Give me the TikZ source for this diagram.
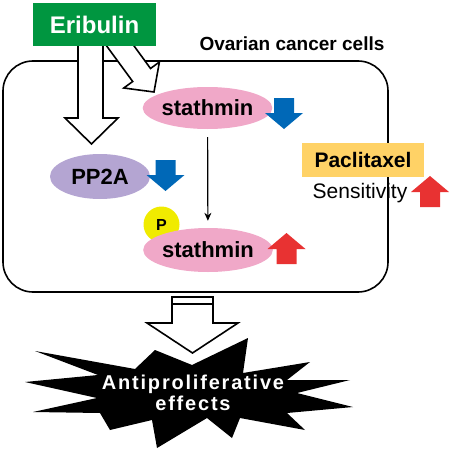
\documentclass[tikz,border=0pt]{standalone}
\usepackage{fontspec}
\setmainfont{Liberation Sans}
\usepackage{tikz}
\usetikzlibrary{calc,shapes.geometric,arrows.meta}
\def\fsz#1{\fontsize{#1}{#1}\selectfont}
\definecolor{erigreen}{RGB}{0,150,64}
\definecolor{stpink}{RGB}{240,168,200}
\definecolor{pppurple}{RGB}{180,165,210}
\definecolor{dnblue}{RGB}{0,104,183}
\definecolor{upred}{RGB}{232,50,50}
\definecolor{pacyellow}{RGB}{255,210,102}
\definecolor{pyellow}{RGB}{240,235,0}
\tikzset{
	fatdown/.pic={\fill (-10,-15) -- (10,-15) -- (10,0) -- (19,0) -- (0,16) -- (-19,0) -- (-10,0) -- cycle;},
	fatup/.pic={\fill (-10,15) -- (10,15) -- (10,0) -- (19,0) -- (0,-16) -- (-19,0) -- (-10,0) -- cycle;},
	blob/.style={ellipse, inner sep=0pt, font=\bfseries\fsz{22}},
	hollow/.style={line width=1.6pt, fill=white, line join=miter}
}

\begin{document}
\begin{tikzpicture}[x=1pt, y=-1pt]
		%%%%% START %%%%%
		\useasboundingbox (0,0) rectangle (450,452);
		
		\draw[line width=1.6pt, rounded corners=30pt] (3,61) rectangle (388,292);
		\node (cell) at (292,44) {\bfseries\fsz{19}Ovarian cancer cells};
		
		\draw[hollow] (78,40) -- (78,118) -- (65,118) -- (91.5,144) -- (118,118) -- (103,118) -- (103,40) -- cycle;
		\draw[hollow] (103,41) -- (132.7,81.5) -- (123.8,88) -- (154,92) -- (159.4,62) -- (150.5,68.5) -- (121,28) -- cycle;
		\node[fill=erigreen, minimum width=123pt, minimum height=43pt, inner sep=0pt] (eri) at (94.5,24.5) {\color{white}\bfseries\fsz{24}Eribulin};
		
		\node[blob, fill=stpink, minimum width=126pt, minimum height=42pt] (st1) at (207.5,108) {stathmin};
		\pic[fill=dnblue] at (284,113) {fatdown};
		
		\node[blob, fill=pppurple, minimum width=100pt, minimum height=45pt] (pp) at (100,176.5) {PP2A};
		\pic[fill=dnblue] at (165.5,175) {fatdown};
		
		\node[circle, fill=pyellow, minimum size=36pt, inner sep=0pt] (ph) at (161.5,224.5) {\bfseries\fsz{16}P};
		\node[blob, fill=stpink, minimum width=126pt, minimum height=44pt] (st2) at (208,250) {stathmin};
		\pic[fill=upred] at (286.5,249) {fatup};
		\draw[-{Stealth[length=8pt, width=7pt]}, line width=1.2pt, shorten <=8pt, shorten >=7pt] (st1) -- (st2);
		
		\node[fill=pacyellow, minimum width=122pt, minimum height=34pt, inner sep=0pt] (pac) at (363,160) {\bfseries\fsz{21}Paclitaxel};
		\node (sens) at (360,193) {\fsz{21}Sensitivity};
		\pic[fill=upred] at (430,192) {fatup};
		
		\fill (35,351) -- (135,369) -- (155,350) -- (192,365) -- (248,338) -- (243,373) -- (310,362) -- (287,380) -- (350,380) -- (297,393) -- (353,407) -- (287,413) -- (305,430) -- (240,418) -- (232,438) -- (207,418) -- (157,448) -- (152,420) -- (110,430) -- (100,413) -- (33,412) -- (97,398) -- (25,382) -- (98,375) -- cycle;
		\node[align=center, text=white, font=\bfseries\fsz{20}\addfontfeatures{LetterSpace=9}] (eff) at (193,393) {Antiproliferative\\[1pt]effects};
		
		\draw[hollow] (172,297) -- (172,323) -- (147,323) -- (192.5,353) -- (238,323) -- (213,323) -- (213,297) -- cycle;
		\draw[line width=1.6pt] (172,304) -- (213,304);
		
		%%%%% END %%%%%
	\end{tikzpicture}
\end{document}
